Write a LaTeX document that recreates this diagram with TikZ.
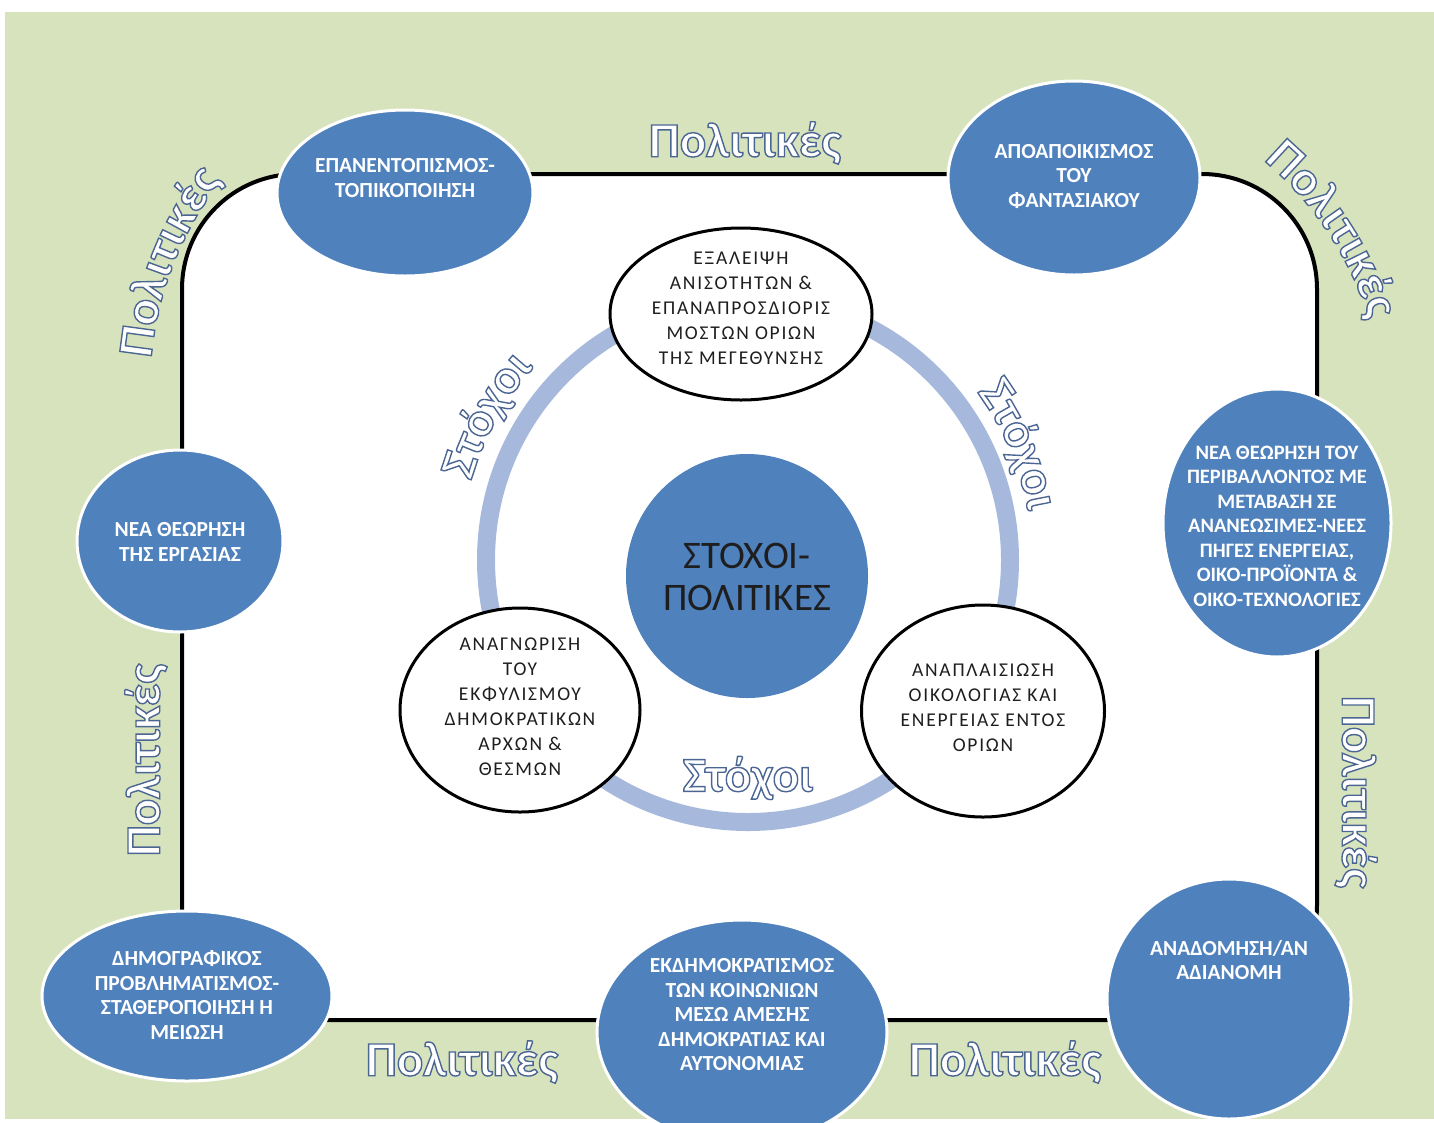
\documentclass[tikz,border=0pt]{standalone}
\usepackage{fontspec}
\setmainfont{Carlito}
\newfontfamily\spfont[LetterSpace=9]{Carlito}
\usetikzlibrary{shapes.geometric,decorations.text}
\definecolor{bggreen}{RGB}{215,227,188}
\definecolor{cblue}{RGB}{79,129,189}
\definecolor{ringblue}{RGB}{166,185,220}
\definecolor{darktxt}{RGB}{30,30,30}
\newcommand\outlon{\special{pdf:literal 2 Tr 1.4 w 0.30 0.40 0.58 RG}}
\newcommand\outl[1]{\outlon#1\special{pdf:literal 0 Tr}}
\newcommand\curvefmt{\bfseries\fontsize{49}{49}\selectfont\color{white}\outlon}
\tikzset{
  bluec/.style={ellipse, draw=white, line width=3pt, fill=cblue, inner sep=0pt},
  whitec/.style={ellipse, draw=black, line width=3pt, fill=white, inner sep=0pt},
  bluetext/.style={text=white, font=\bfseries\fontsize{21.5}{24.5}\selectfont, align=center, inner sep=0pt},
  blacktext/.style={text=darktxt, font=\spfont\fontsize{19.5}{25}\selectfont, align=center, inner sep=0pt},
  pol/.style={text=white, font=\bfseries\fontsize{49}{49}\selectfont, inner sep=0pt},
  curved/.style={decorate, decoration={text along path, text={|\curvefmt|#1}, text align=center}},
}
\begin{document}
\begin{tikzpicture}[x=1pt,y=-1pt]
\useasboundingbox (0,0) rectangle (1434,1122);
\fill[white] (0,0) rectangle (1434,1122);
\fill[bggreen] (5,12) rectangle (1434,1119);
\draw[line width=4pt, fill=white, rounded corners=115pt] (182,174) rectangle (1317,1020);

% ring
\node[circle, draw=ringblue, line width=18pt, minimum size=524pt, inner sep=0pt] (ring) at (748,560) {};

% white goal circles
\node[whitec, minimum width=262pt, minimum height=172pt] (w1) at (741,314) {};
\node[whitec, minimum width=240pt, minimum height=204pt] (w2) at (520,710) {};
\node[whitec, minimum width=243pt, minimum height=212pt] (w3) at (983,711) {};
\node[blacktext] (w1t) at (741,308) {ΕΞΑΛΕΙΨΗ\\ΑΝΙΣΟΤΗΤΩΝ \&\\ΕΠΑΝΑΠΡΟΣΔΙΟΡΙΣ\\ΜΟΣΤΩΝ ΟΡΙΩΝ\\ΤΗΣ ΜΕΓΕΘΥΝΣΗΣ};
\node[blacktext] (w2t) at (520,707) {ΑΝΑΓΝΩΡΙΣΗ\\ΤΟΥ\\ΕΚΦΥΛΙΣΜΟΥ\\ΔΗΜΟΚΡΑΤΙΚΩΝ\\ΑΡΧΩΝ \&\\ΘΕΣΜΩΝ};
\node[blacktext] (w3t) at (983,708) {ΑΝΑΠΛΑΙΣΙΩΣΗ\\ΟΙΚΟΛΟΓΙΑΣ ΚΑΙ\\ΕΝΕΡΓΕΙΑΣ ΕΝΤΟΣ\\ΟΡΙΩΝ};

% centre
\node[ellipse, fill=cblue, minimum width=242pt, minimum height=244pt, inner sep=0pt] (ctr) at (747,576) {};
\node[text=darktxt, font=\fontsize{39}{42}\selectfont, align=center, inner sep=0pt] (ctrt) at (747,577) {ΣΤΟΧΟΙ-\\ΠΟΛΙΤΙΚΕΣ};

% blue policy circles
\node[bluec, minimum width=256pt, minimum height=166pt] (c1) at (405,193) {};
\node[bluec, minimum width=252pt, minimum height=194pt] (c2) at (1074,178) {};
\node[bluec, minimum width=228pt, minimum height=268pt] (c3) at (1277,523) {};
\node[bluec, minimum width=244pt, minimum height=240pt] (c4) at (1229,999) {};
\node[bluec, minimum width=290pt, minimum height=224pt] (c5) at (742,1032) {};
\node[bluec, minimum width=290pt, minimum height=170pt] (c6) at (187,996) {};
\node[bluec, minimum width=206pt, minimum height=182pt] (c7) at (180,541) {};

\node[bluetext] (t1) at (405,178) {ΕΠΑΝΕΝΤΟΠΙΣΜΟΣ-\\ΤΟΠΙΚΟΠΟΙΗΣΗ};
\node[bluetext] (t2) at (1074,176) {ΑΠΟΑΠΟΙΚΙΣΜΟΣ\\ΤΟΥ\\ΦΑΝΤΑΣΙΑΚΟΥ};
\node[bluetext, font=\bfseries\fontsize{20.5}{24.5}\selectfont] (t3) at (1277,526) {ΝΕΑ ΘΕΩΡΗΣΗ ΤΟΥ\\ΠΕΡΙΒΑΛΛΟΝΤΟΣ ΜΕ\\ΜΕΤΑΒΑΣΗ ΣΕ\\ΑΝΑΝΕΩΣΙΜΕΣ-ΝΕΕΣ\\ΠΗΓΕΣ ΕΝΕΡΓΕΙΑΣ,\\ΟΙΚΟ-ΠΡΟΪΟΝΤΑ \&\\ΟΙΚΟ-ΤΕΧΝΟΛΟΓΙΕΣ};
\node[bluetext] (t4) at (1229,960) {ΑΝΑΔΟΜΗΣΗ/ΑΝ\\ΑΔΙΑΝΟΜΗ};
\node[bluetext] (t5) at (742,1015) {ΕΚΔΗΜΟΚΡΑΤΙΣΜΟΣ\\ΤΩΝ ΚΟΙΝΩΝΙΩΝ\\ΜΕΣΩ ΑΜΕΣΗΣ\\ΔΗΜΟΚΡΑΤΙΑΣ ΚΑΙ\\ΑΥΤΟΝΟΜΙΑΣ};
\node[bluetext] (t6) at (187,995) {ΔΗΜΟΓΡΑΦΙΚΟΣ\\ΠΡΟΒΛΗΜΑΤΙΣΜΟΣ-\\ΣΤΑΘΕΡΟΠΟΙΗΣΗ Η\\ΜΕΙΩΣΗ};
\node[bluetext] (t7) at (180,542) {ΝΕΑ ΘΕΩΡΗΣΗ\\ΤΗΣ ΕΡΓΑΣΙΑΣ};

% outlined labels (straight)
\node[pol] (p1) at (745,143) {\outl{Πολιτικές}};
\node[pol, rotate=-90] (p4) at (1356,792) {\outl{Πολιτικές}};
\node[pol, rotate=90] (p5) at (146,760) {\outl{Πολιτικές}};
\node[pol] (p6) at (462,1062) {\outl{Πολιτικές}};
\node[pol] (p7) at (1005,1062) {\outl{Πολιτικές}};
\node[pol] (s3) at (748,778) {\outl{Στόχοι}};

% outlined labels (curved)
\coordinate (k2) at (488,388);
\coordinate (k3) at (1046,419);
\coordinate (kr) at (748,560);
\path[curved={Πολιτικές}] (k2) ++(180:338) arc[start angle=180, end angle=223, radius=338];
\path[curved={Πολιτικές}] (k3) ++(-55:338) arc[start angle=-55, end angle=-12, radius=338];
\path[curved={Στόχοι}] (kr) ++(191:288) arc[start angle=191, end angle=227, radius=288];
\path[curved={Στόχοι}] (kr) ++(-41:284) arc[start angle=-41, end angle=-5, radius=284];
\end{tikzpicture}
\end{document}
